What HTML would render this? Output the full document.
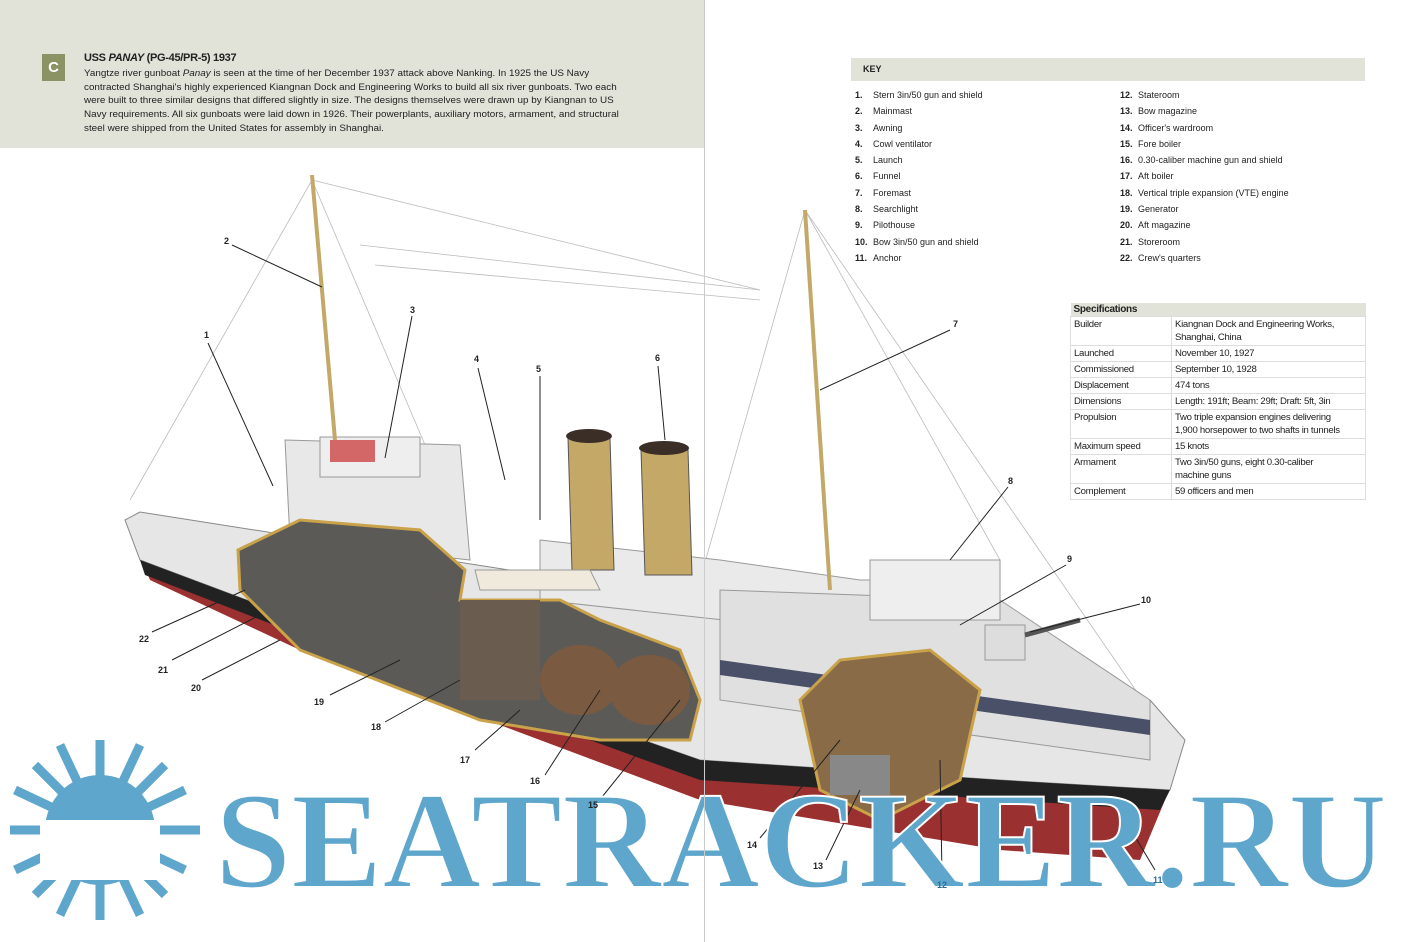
<!DOCTYPE html>
<html><head><meta charset="utf-8"><style>
body{margin:0;width:1407px;height:942px;background:#fff;position:relative;overflow:hidden;font-family:"Liberation Sans",sans-serif;color:#222}
.hdr{position:absolute;left:0;top:0;width:704px;height:148px;background:#e1e2d8}
.c{position:absolute;left:42px;top:54px;width:23px;height:27px;background:#8b9263;color:#fff;font-weight:bold;font-size:15px;text-align:center;line-height:27px}
.t{position:absolute;left:84px;top:52px;font-size:11px;font-weight:bold;letter-spacing:-.3px}
.p{position:absolute;left:84px;top:67px;font-size:9.6px;line-height:13.7px;white-space:nowrap;transform-origin:0 0}
.p div{transform-origin:0 0;transform:scaleX(1.03)}
.vl{position:absolute;left:704px;top:0;width:1px;height:942px;background:#ccc}
.key{position:absolute;left:851px;top:58px;width:514px;height:23px;background:#e1e2d8;font-size:9px;font-weight:bold;line-height:23px;padding-left:12px;box-sizing:border-box}
.kl{position:absolute;font-size:9px;line-height:16.3px}
.kl b{display:inline-block;width:18px}
table{position:absolute;left:1070px;top:303px;width:296px;border-collapse:collapse;font-size:9.6px;letter-spacing:-.3px}
td{border:1px solid #ddd;padding:1px 3px;vertical-align:top;line-height:13px}
th{background:#e1e2d8;text-align:left;padding:1px 3px;font-size:10px}
.n{position:absolute;font-size:9px;font-weight:bold}
</style></head><body>
<div class="hdr"></div>
<div class="c">C</div>
<div class="t">USS <i>PANAY</i> (PG-45/PR-5) 1937</div>
<div class="p">
<div>Yangtze river gunboat <i>Panay</i> is seen at the time of her December 1937 attack above Nanking. In 1925 the US Navy</div>
<div>contracted Shanghai's highly experienced Kiangnan Dock and Engineering Works to build all six river gunboats. Two each</div>
<div>were built to three similar designs that differed slightly in size. The designs themselves were drawn up by Kiangnan to US</div>
<div>Navy requirements. All six gunboats were laid down in 1926. Their powerplants, auxiliary motors, armament, and structural</div>
<div>steel were shipped from the United States for assembly in Shanghai.</div>
</div>
<svg width="1407" height="942" style="position:absolute;left:0;top:0">
<g stroke="#bbb" stroke-width="0.8" fill="none">
<line x1="312" y1="180" x2="130" y2="500"/><line x1="312" y1="180" x2="440" y2="480"/><line x1="312" y1="180" x2="760" y2="290"/><line x1="805" y1="210" x2="700" y2="580"/><line x1="805" y1="210" x2="1170" y2="740"/><line x1="805" y1="210" x2="1000" y2="560"/><line x1="360" y1="245" x2="760" y2="290"/><line x1="375" y1="265" x2="760" y2="300"/>
</g>
<path d="M125 520 L140 512 L700 600 L1150 700 L1185 740 L1165 800 L1140 860 L1000 850 L700 800 L300 650 L150 580 Z" fill="#9a3030"/>
<path d="M125 520 L140 512 L700 600 L1150 700 L1185 740 L1170 790 L1000 780 L700 760 L300 620 L140 560 Z" fill="#e6e6e6" stroke="#888"/>
<path d="M140 560 L300 620 L700 760 L1000 780 L1170 790 L1160 810 L700 780 L300 635 L145 575Z" fill="#222"/>
<path d="M285 440 L460 445 L470 560 L290 540Z" fill="#e8e8e8" stroke="#999"/>
<rect x="320" y="437" width="100" height="40" fill="#eee" stroke="#999"/>
<rect x="330" y="440" width="45" height="22" fill="#c44" opacity=".8"/>
<path d="M540 540 L720 560 L860 580 L1000 580 L1000 650 L540 600Z" fill="#eaeaea" stroke="#999"/>
<path d="M720 590 L1000 600 L1150 700 L1150 760 L720 700Z" fill="#e0e0e0" stroke="#999"/>
<path d="M720 660 L1150 720 L1150 735 L720 675Z" fill="#4a5068"/>
<rect x="870" y="560" width="130" height="60" fill="#eee" stroke="#999"/>
<rect x="985" y="625" width="40" height="35" fill="#ddd" stroke="#999"/>
<line x1="1025" y1="635" x2="1080" y2="620" stroke="#555" stroke-width="5"/>
<path d="M568 438 L610 438 L614 570 L572 570Z" fill="#c4a867" stroke="#555"/><ellipse cx="589" cy="436" rx="23" ry="7" fill="#3b2e27"/>
<path d="M641 450 L688 450 L692 575 L645 575Z" fill="#c4a867" stroke="#555"/><ellipse cx="664" cy="448" rx="25" ry="7" fill="#3b2e27"/>
<path d="M238 550 L300 520 L420 530 L465 570 L460 600 L560 600 L600 620 L680 650 L700 700 L690 740 L600 740 L480 720 L300 650 L240 590Z" fill="#5c5a56" stroke="#c9a24a" stroke-width="3"/>
<rect x="460" y="600" width="80" height="100" fill="#6b5c50"/><ellipse cx="580" cy="680" rx="40" ry="35" fill="#7a5a40"/><ellipse cx="650" cy="690" rx="40" ry="35" fill="#7a5a40"/>
<path d="M800 700 L840 660 L930 650 L980 690 L960 780 L880 820 L820 790Z" fill="#8a6b48" stroke="#c9a24a" stroke-width="3"/>
<rect x="830" y="755" width="60" height="40" fill="#888"/>
<path d="M475 570 L590 570 L600 590 L480 590Z" fill="#f0eadc" stroke="#999"/>
<line x1="312" y1="175" x2="335" y2="440" stroke="#c4a867" stroke-width="4"/>
<line x1="805" y1="210" x2="830" y2="590" stroke="#c4a867" stroke-width="4"/>
<g stroke="#222" stroke-width="1">
<line x1="232" y1="245" x2="322" y2="287"/><line x1="412" y1="316" x2="385" y2="458"/><line x1="208" y1="343" x2="273" y2="486"/><line x1="478" y1="368" x2="505" y2="480"/><line x1="540" y1="376" x2="540" y2="520"/><line x1="658" y1="366" x2="665" y2="440"/><line x1="950" y1="330" x2="820" y2="390"/><line x1="1008" y1="487" x2="950" y2="560"/><line x1="1066" y1="565" x2="960" y2="625"/><line x1="1140" y1="604" x2="1030" y2="632"/>
<line x1="152" y1="632" x2="245" y2="590"/><line x1="172" y1="660" x2="260" y2="615"/><line x1="202" y1="680" x2="280" y2="640"/><line x1="330" y1="695" x2="400" y2="660"/><line x1="385" y1="722" x2="460" y2="680"/><line x1="475" y1="750" x2="520" y2="710"/><line x1="545" y1="775" x2="600" y2="690"/><line x1="602" y1="797" x2="680" y2="700"/><line x1="760" y1="838" x2="840" y2="740"/><line x1="826" y1="860" x2="860" y2="790"/><line x1="942" y1="875" x2="940" y2="760"/><line x1="1155" y1="870" x2="1110" y2="795"/>
</g>
<g fill="#5fa6cc">
<circle cx="100" cy="830" r="55"/>
<g stroke="#5fa6cc" stroke-width="9">
<line x1="100" y1="740" x2="100" y2="920"/><line x1="10" y1="830" x2="200" y2="830"/><line x1="35" y1="765" x2="165" y2="895"/><line x1="35" y1="895" x2="165" y2="765"/><line x1="60" y1="745" x2="140" y2="915"/><line x1="140" y1="745" x2="60" y2="915"/><line x1="15" y1="790" x2="185" y2="870"/><line x1="15" y1="870" x2="185" y2="790"/>
</g>
<rect x="40" y="820" width="120" height="60" fill="#fff"/>
<text x="215" y="887" font-family="Liberation Serif,serif" font-weight="bold" font-size="138" textLength="1172" lengthAdjust="spacingAndGlyphs" fill="#5fa6cc" stroke="#fff" stroke-width="2">SEATRACKER.RU</text>
</g>
</svg>
<div class="vl"></div>
<div class="n" style="left:224px;top:236px">2</div><div class="n" style="left:410px;top:305px">3</div><div class="n" style="left:204px;top:330px">1</div><div class="n" style="left:474px;top:354px">4</div><div class="n" style="left:536px;top:364px">5</div><div class="n" style="left:655px;top:353px">6</div><div class="n" style="left:953px;top:319px">7</div><div class="n" style="left:1008px;top:476px">8</div><div class="n" style="left:1067px;top:554px">9</div><div class="n" style="left:1141px;top:595px">10</div>
<div class="n" style="left:139px;top:634px">22</div><div class="n" style="left:158px;top:665px">21</div><div class="n" style="left:191px;top:683px">20</div><div class="n" style="left:314px;top:697px">19</div><div class="n" style="left:371px;top:722px">18</div><div class="n" style="left:460px;top:755px">17</div><div class="n" style="left:530px;top:776px">16</div><div class="n" style="left:588px;top:800px">15</div><div class="n" style="left:747px;top:840px">14</div><div class="n" style="left:813px;top:861px">13</div><div class="n" style="left:937px;top:880px;color:#2a6f9a">12</div><div class="n" style="left:1153px;top:875px;color:#2a6f9a">11</div>
<div class="key">KEY</div>
<div class="kl" style="left:855px;top:87px">
<div><b>1.</b>Stern 3in/50 gun and shield</div><div><b>2.</b>Mainmast</div><div><b>3.</b>Awning</div><div><b>4.</b>Cowl ventilator</div><div><b>5.</b>Launch</div><div><b>6.</b>Funnel</div><div><b>7.</b>Foremast</div><div><b>8.</b>Searchlight</div><div><b>9.</b>Pilothouse</div><div><b>10.</b>Bow 3in/50 gun and shield</div><div><b>11.</b>Anchor</div></div>
<div class="kl" style="left:1120px;top:87px">
<div><b>12.</b>Stateroom</div><div><b>13.</b>Bow magazine</div><div><b>14.</b>Officer's wardroom</div><div><b>15.</b>Fore boiler</div><div><b>16.</b>0.30-caliber machine gun and shield</div><div><b>17.</b>Aft boiler</div><div><b>18.</b>Vertical triple expansion (VTE) engine</div><div><b>19.</b>Generator</div><div><b>20.</b>Aft magazine</div><div><b>21.</b>Storeroom</div><div><b>22.</b>Crew's quarters</div></div>
<table>
<tr><th colspan="2">Specifications</th></tr>
<tr><td style="width:94px">Builder</td><td>Kiangnan Dock and Engineering Works, Shanghai, China</td></tr>
<tr><td>Launched</td><td>November 10, 1927</td></tr>
<tr><td>Commissioned</td><td>September 10, 1928</td></tr>
<tr><td>Displacement</td><td>474 tons</td></tr>
<tr><td>Dimensions</td><td>Length: 191ft; Beam: 29ft; Draft: 5ft, 3in</td></tr>
<tr><td>Propulsion</td><td>Two triple expansion engines delivering<br>1,900 horsepower to two shafts in tunnels</td></tr>
<tr><td>Maximum speed</td><td>15 knots</td></tr>
<tr><td>Armament</td><td>Two 3in/50 guns, eight 0.30-caliber<br>machine guns</td></tr>
<tr><td>Complement</td><td>59 officers and men</td></tr>
</table>
</body></html>
